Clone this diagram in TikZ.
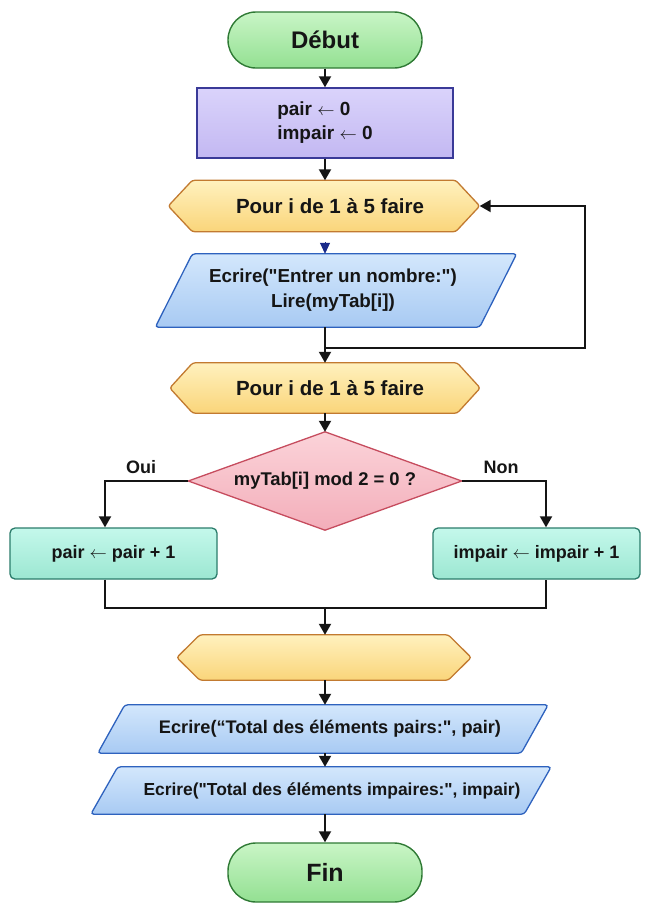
\documentclass[tikz,border=0pt]{standalone}
\usepackage{fontspec}
\setmainfont{Liberation Sans}[Ligatures=TeXOff]
\usetikzlibrary{arrows.meta,backgrounds}
\definecolor{txt}{HTML}{151515}
\definecolor{grnT}{HTML}{C9F5C6}\definecolor{grnB}{HTML}{93E092}\definecolor{grnD}{HTML}{2F7A35}
\definecolor{lavT}{HTML}{DAD3FB}\definecolor{lavB}{HTML}{C3B8F2}\definecolor{lavD}{HTML}{3A3A98}
\definecolor{yelT}{HTML}{FFF1BE}\definecolor{yelB}{HTML}{FAD57A}\definecolor{yelD}{HTML}{C27A30}
\definecolor{bluT}{HTML}{D3E7FC}\definecolor{bluB}{HTML}{A8CAF3}\definecolor{bluD}{HTML}{2E62BE}
\definecolor{pnkT}{HTML}{FBD3D9}\definecolor{pnkB}{HTML}{F3AEBA}\definecolor{pnkD}{HTML}{C64C5E}
\definecolor{aqT}{HTML}{C4F8EB}\definecolor{aqB}{HTML}{9CE7D2}\definecolor{aqD}{HTML}{2B7C6B}
\definecolor{navy}{HTML}{1A2A8A}
\begin{document}
\begin{tikzpicture}[x=1pt,y=-1pt,
  lbl/.style={inner sep=0pt, text=txt, font=\bfseries\fontsize{19}{24}\selectfont},
  holder/.style={inner sep=0pt, draw=none},
  term/.style={lbl, line width=1.4pt, draw=grnD, top color=grnT, bottom color=grnB, minimum width=194pt, rounded corners=28pt},
  initbox/.style={lbl, line width=1.4pt, draw=lavD, top color=lavT, bottom color=lavB, align=left},
  hexa/.style={line width=1.3pt, draw=yelD, top color=yelT, bottom color=yelB, rounded corners=2.5pt},
  para/.style={line width=1.3pt, draw=bluD, top color=bluT, bottom color=bluB, rounded corners=3pt},
  deci/.style={line width=1.3pt, draw=pnkD, top color=pnkT, bottom color=pnkB},
  procbox/.style={lbl, line width=1.3pt, draw=aqD, top color=aqT, bottom color=aqB, rounded corners=5pt, minimum width=207pt, minimum height=51pt},
  conn/.style={line width=1.9pt, draw=txt, -{Triangle[length=11pt,width=12pt]}},
  link/.style={line width=1.9pt, draw=txt},
  headonly/.style={line width=0.8pt, draw=navy, fill=navy, -{Triangle[length=11pt,width=10pt]}, shorten <=10.5pt}
]
\useasboundingbox (0,0) rectangle (650,913);

% terminals and boxes
\node[term, minimum height=56pt, font=\bfseries\fontsize{24}{24}\selectfont] (start) at (325,40) {Début};
\node[initbox, minimum width=256pt, minimum height=70pt] (init) at (325,123) {pair $\leftarrow$ 0\\impair $\leftarrow$ 0};

% hexagon 1
\node[holder, minimum width=311pt, minimum height=51pt] (h1) at (324,206) {};
\node[lbl, font=\bfseries\fontsize{20.5}{24}\selectfont] (h1t) at (330,206) {Pour i de 1 à 5 faire};

% parallelogram 1
\node[holder, minimum width=324pt, minimum height=73pt] (p1) at (336,290.5) {};
\node[lbl, align=center, font=\bfseries\fontsize{18.8}{25}\selectfont] (p1t) at (333,290.5) {Ecrire("Entrer un nombre:")\\Lire(myTab[i])};

% hexagon 2
\node[holder, minimum width=310pt, minimum height=50pt] (h2) at (325,388) {};
\node[lbl, font=\bfseries\fontsize{20.5}{24}\selectfont] (h2t) at (330,388) {Pour i de 1 à 5 faire};

% decision
\node[holder, minimum width=273pt, minimum height=98pt] (d) at (325,481) {};
\node[lbl, font=\bfseries\fontsize{18.4}{24}\selectfont] (dt) at (325,481) {myTab[i] mod 2 = 0 ?};
\node[lbl, font=\bfseries\fontsize{18}{24}\selectfont] (oui) at (141,467) {Oui};
\node[lbl, font=\bfseries\fontsize{18}{24}\selectfont] (non) at (501,467) {Non};

% process boxes
\node[procbox, font=\bfseries\fontsize{18}{24}\selectfont] (bl) at (113.5,553.5) {pair $\leftarrow$ pair + 1};
\node[procbox, font=\bfseries\fontsize{18}{24}\selectfont] (br) at (536.5,553.5) {impair $\leftarrow$ impair + 1};

% hexagon 3 (empty)
\node[holder, minimum width=294pt, minimum height=45pt] (h3) at (324,657.5) {};

% parallelograms 2 and 3
\node[holder, minimum width=423pt, minimum height=48pt] (p2) at (323,729) {};
\node[lbl, font=\bfseries\fontsize{18.2}{24}\selectfont] (p2t) at (330,729) {Ecrire(“Total des éléments pairs:", pair)};
\node[holder, minimum width=433pt, minimum height=47pt] (p3) at (321,790.5) {};
\node[lbl, font=\bfseries\fontsize{17.4}{24}\selectfont] (p3t) at (332,790.5) {Ecrire("Total des éléments impaires:", impair)};

\node[term, minimum height=59pt, font=\bfseries\fontsize{25}{25}\selectfont] (fin) at (325,872.5) {Fin};

% shapes on background
\begin{scope}[on background layer]
\foreach \h/\s in {h1/24,h2/23,h3/23}{
  \path[hexa] (\h.west) -- ([xshift=\s pt]\h.north west) -- ([xshift=-\s pt]\h.north east) -- (\h.east)
     -- ([xshift=-\s pt]\h.south east) -- ([xshift=\s pt]\h.south west) -- cycle;
}
\foreach \p/\s in {p1/18.5,p2/13.5,p3/13.5}{
  \path[para] ([xshift=-\s pt]\p.south west) -- ([xshift=\s pt]\p.north west) -- ([xshift=\s pt]\p.north east)
     -- ([xshift=-\s pt]\p.south east) -- cycle;
}
\path[deci] (d.west) -- (d.north) -- (d.east) -- (d.south) -- cycle;
\end{scope}

% helper coordinates
\coordinate (axis) at (325,0);
\coordinate (lb) at (105,481);
\coordinate (rb) at (546,481);
\coordinate (ml) at (105,608);
\coordinate (mr) at (546,608);
\coordinate (loopA) at (325,348);
\coordinate (loopB) at (585,348);
\coordinate (loopC) at (585,206);

% connectors
\draw[conn] (start.south) -- (init.north);
\draw[conn] (init.south) -- (axis |- h1.north);
\draw[headonly] (axis |- h1.south) -- (axis |- p1.north);
\draw[conn] (axis |- p1.south) -- (axis |- h2.north);
\draw[conn] (loopA) -- (loopB) -- (loopC) -- (h1.east);
\draw[conn] (h2.south) -- (d.north);
\draw[conn] (d.west) -- (lb) -- (lb |- bl.north);
\draw[conn] (d.east) -- (rb) -- (rb |- br.north);
\draw[link] (lb |- bl.south) -- (ml) -- (mr) -- (rb |- br.south);
\draw[conn] (axis |- ml) -- (axis |- h3.north);
\draw[conn] (axis |- h3.south) -- (axis |- p2.north);
\draw[conn] (axis |- p2.south) -- (axis |- p3.north);
\draw[conn] (axis |- p3.south) -- (fin.north);
\end{tikzpicture}
\end{document}
